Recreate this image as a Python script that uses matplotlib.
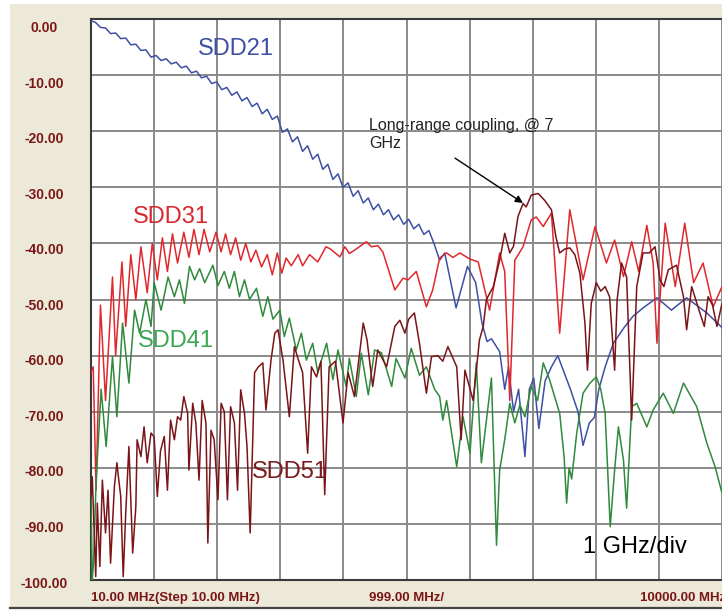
import numpy as np
import matplotlib
matplotlib.use('Agg')
from matplotlib import pyplot as plt
from matplotlib import transforms
from matplotlib.patches import Rectangle
from matplotlib.lines import Line2D

plt.rcParams['font.family'] = ['Liberation Sans', 'DejaVu Sans']

# (frequency MHz, dB)
sdd21 = [(10, -0.3), (80, -0.6), (160, -1.5), (240, -1.6), (320, -2.6), (400, -2.5), (480, -3.5),
         (560, -3.4), (640, -4.6), (720, -4.5), (800, -5.6), (880, -5.5), (960, -6.8), (1040, -6.5),
         (1120, -7.4), (1200, -7.1), (1280, -8.0), (1360, -7.7), (1440, -8.7), (1520, -8.4),
         (1600, -9.6), (1680, -9.3), (1760, -10.5), (1840, -10.2), (1920, -11.5), (2000, -11.2),
         (2080, -12.6), (2160, -12.2), (2240, -13.6), (2320, -13.0), (2400, -14.6), (2480, -14.0),
         (2560, -15.6), (2640, -15.0), (2720, -16.9), (2800, -16.1), (2880, -17.9), (2960, -17.3),
         (3040, -20.2), (3120, -19.6), (3200, -21.9), (3280, -21.0), (3360, -23.6), (3440, -22.6),
         (3520, -25.0), (3600, -24.1), (3680, -26.8), (3760, -25.9), (3840, -28.6), (3920, -27.6),
         (4000, -30.0), (4080, -29.2), (4160, -31.6), (4240, -30.6), (4320, -32.8), (4400, -31.9),
         (4480, -34.0), (4560, -33.0), (4640, -34.9), (4720, -34.0), (4800, -35.8), (4880, -34.9),
         (4960, -36.6), (5040, -35.7), (5120, -37.4), (5200, -36.6), (5280, -38.4), (5360, -37.7),
         (5440, -40.0), (5530, -43.0), (5610, -41.7), (5790, -51.5), (5970, -44.1), (6100, -47.0),
         (6200, -54.2), (6280, -57.5), (6350, -57.0), (6480, -59.3), (6560, -66), (6620, -62),
         (6700, -70), (6780, -66), (6880, -78), (6950, -66), (7020, -64), (7100, -73), (7200, -64.5),
         (7300, -62), (7400, -60), (7500, -63), (7600, -66), (7720, -70), (7800, -76), (7900, -72),
         (7980, -71), (8050, -66), (8150, -62), (8280, -57.8), (8450, -55), (8590, -53), (8750, -51.5),
         (8970, -49.7), (9200, -51.9), (9440, -49.7), (9760, -52.4), (10000, -55)]

sdd31 = [(10, -63), (45, -62), (90, -84), (160, -51), (240, -68), (350, -46), (400, -60), (500, -43.3),
         (560, -54.8), (640, -42), (720, -50), (800, -40.6), (900, -48.8), (980, -40), (1060, -46.5),
         (1140, -39), (1220, -45), (1300, -38.3), (1380, -43.5), (1480, -38), (1560, -42.5),
         (1640, -37.5), (1720, -42), (1800, -37.5), (1890, -41.5), (1990, -38), (2070, -41.5),
         (2140, -38.3), (2220, -42), (2300, -39), (2380, -43), (2460, -40), (2540, -43.3),
         (2620, -41.2), (2710, -44.2), (2800, -42), (2880, -45.6), (2960, -41.7), (3030, -45.3),
         (3100, -42.6), (3180, -44), (3290, -42), (3360, -44), (3470, -42), (3600, -43.3),
         (3730, -40.6), (3800, -41), (3950, -42.4), (4030, -40.6), (4100, -41.8), (4210, -41),
         (4370, -39.7), (4450, -40.6), (4550, -40.4), (4630, -41.5), (4820, -48.3), (4950, -46.2),
         (5030, -46.5), (5160, -45), (5320, -51.3), (5420, -48.3), (5530, -42.6), (5640, -41.7),
         (5740, -42.5), (5850, -41.7), (6010, -42.8), (6140, -43.3), (6320, -51.9), (6480, -41.7),
         (6560, -45), (6640, -68), (6720, -43), (6850, -40.6), (6980, -35.8), (7060, -35.3),
         (7170, -37), (7300, -34.6), (7430, -56), (7590, -34), (7800, -46.5), (7990, -37),
         (8170, -43.5), (8300, -39.4), (8440, -45.9), (8570, -39.7), (8680, -45), (8810, -36.8),
         (8910, -43.5), (8970, -57.8), (9100, -36.4), (9260, -47.7), (9410, -36.4), (9550, -47),
         (9700, -43.5), (9860, -51.3), (10000, -47.7)]

sdd41 = [(10, -85), (30, -100), (50, -97), (90, -82.8), (170, -66), (250, -76.2), (350, -60.2),
         (420, -70.9), (510, -54.2), (610, -64.9), (700, -51.9), (780, -56), (880, -50), (960, -54.8),
         (1010, -47), (1120, -51.9), (1230, -46), (1330, -49.5), (1410, -46.5), (1490, -50.7),
         (1570, -44.1), (1650, -46.5), (1730, -44.5), (1810, -47), (1940, -43.9), (2020, -47.5),
         (2120, -45), (2200, -48), (2280, -45), (2360, -49.5), (2440, -46.5), (2520, -50),
         (2630, -48), (2730, -53), (2810, -49.5), (2890, -53.5), (3000, -51.9), (3070, -56.6),
         (3150, -53.3), (3260, -59), (3340, -56), (3420, -60.8), (3520, -57.8), (3600, -63),
         (3740, -57.8), (3840, -64.3), (3920, -59), (4050, -65.5), (4100, -60.5), (4210, -67.3),
         (4290, -59.6), (4400, -67), (4500, -59), (4610, -59.5), (4770, -65.5), (4840, -60.5),
         (4980, -64), (5080, -58.7), (5210, -63.5), (5320, -62), (5450, -66), (5530, -67.3),
         (5580, -71.5), (5640, -68), (5800, -79.8), (5900, -70.9), (6010, -77.4), (6110, -61.3),
         (6190, -79.1), (6350, -64), (6430, -93.8), (6480, -80.4), (6560, -75), (6640, -68.5),
         (6720, -72), (6800, -68.8), (6880, -70.9), (6980, -65.5), (7080, -68), (7170, -61.3),
         (7270, -64.3), (7430, -70.3), (7500, -78), (7540, -86.3), (7580, -80), (7620, -82),
         (7700, -73.8), (7800, -66.7), (7910, -64.9), (8010, -63.8), (8080, -66), (8150, -70.3),
         (8230, -90.5), (8300, -80.4), (8360, -72.7), (8440, -78.6), (8490, -87.2), (8570, -69.1),
         (8650, -68.5), (8810, -72.7), (8910, -69.7), (9070, -66.7), (9230, -70.3), (9390, -64.9),
         (9600, -69.1), (9760, -75.6), (9890, -79.8), (10000, -84.5)]

sdd51 = [(10, -85.1), (30, -81.6), (85, -99.4), (110, -86.3), (150, -97.6), (190, -82.2), (240, -91.6),
         (280, -84), (320, -97), (380, -83.4), (420, -79.1), (450, -82.2), (480, -85), (520, -99.4),
         (560, -88), (610, -76.2), (670, -95.2), (720, -86.9), (740, -75), (800, -78), (850, -72.7),
         (900, -79.1), (960, -73.8), (1010, -74.5), (1060, -85.1), (1110, -77), (1170, -74.4),
         (1220, -84), (1270, -71.5), (1330, -75), (1380, -70.9), (1430, -71.5), (1480, -67.3),
         (1540, -70.3), (1560, -80.4), (1620, -68.5), (1670, -72), (1720, -82.2), (1770, -68),
         (1830, -72), (1860, -93.4), (1910, -73.3), (1960, -75), (2020, -85.7), (2070, -68.5),
         (2120, -70), (2170, -85.7), (2220, -69.1), (2280, -72), (2330, -84), (2380, -66.1),
         (2440, -70.3), (2480, -76.2), (2530, -91.6), (2600, -63), (2660, -62), (2730, -61.3),
         (2780, -69.7), (2860, -60.8), (2920, -56), (2970, -55.4), (3050, -60.8), (3150, -70.9),
         (3230, -58.4), (3300, -61), (3360, -63), (3440, -77.4), (3500, -62), (3580, -63.8),
         (3650, -61), (3710, -84.8), (3780, -62), (3880, -61), (4000, -72), (4080, -63),
         (4180, -67.3), (4320, -54.2), (4380, -57.2), (4470, -65.5), (4550, -59), (4690, -62),
         (4820, -54.8), (4900, -53.7), (4980, -56), (5040, -53.5), (5130, -52.4), (5210, -57.8),
         (5320, -66.7), (5400, -60.2), (5500, -60), (5580, -61), (5660, -58.4), (5800, -62),
         (5870, -75), (5930, -62.6), (6060, -68), (6160, -57.2), (6220, -54.8), (6270, -50),
         (6380, -47.7), (6480, -43), (6560, -38.2), (6640, -41.7), (6700, -40.5), (6770, -35.2),
         (6850, -32.9), (6900, -33.5), (6980, -31.4), (7090, -31.1), (7190, -32.3), (7300, -34),
         (7370, -38.8), (7430, -41.7), (7510, -41), (7590, -40.8), (7670, -42), (7750, -45.3),
         (7830, -54.2), (7870, -62.6), (7930, -50.7), (8010, -47), (8080, -48.5), (8150, -47.7),
         (8220, -49.5), (8300, -62.6), (8340, -50), (8410, -43.5), (8490, -46), (8570, -71.5),
         (8650, -47.7), (8750, -41.7), (8850, -41.7), (8940, -40.6), (9020, -46.5), (9080, -47.7),
         (9150, -44.7), (9280, -43.9), (9390, -49.5), (9440, -55.4), (9520, -47.7), (9650, -52.4),
         (9720, -54.8), (9780, -49.5), (9850, -51), (9920, -54.8), (10000, -50.7)]

y_ticks = [0, -10, -20, -30, -40, -50, -60, -70, -80, -90, -100]
x_grid = [10, 1009, 2008, 3007, 4006, 5005, 6004, 7003, 8002, 9001, 10000]
x_labels = ['10.00 MHz(Step 10.00 MHz)', '999.00 MHz/', '10000.00 MHz']

label_red = '#7a1616'

fig = plt.figure(figsize=(7.22, 6.10), dpi=100, facecolor='white')
fig.patches.append(Rectangle((10 / 722, 3 / 610), 712 / 722, 603 / 610, transform=fig.transFigure,
                             facecolor='#ece9d8', edgecolor='none', zorder=-10))
fig.lines.append(Line2D([10 / 722, 1], [2 / 610, 2 / 610], transform=fig.transFigure,
                        color='#444444', lw=1.6, zorder=-9))

ax = fig.add_axes([91 / 722, 30 / 610, 631 / 722, 561 / 610])
ax.set_facecolor('white')
ax.set_xlim(10, 10000)
ax.set_ylim(-100, 0)

ax.set_xticks(x_grid)
ax.set_yticks(y_ticks)
ax.set_yticklabels([f'{v:.2f}' for v in y_ticks], fontweight='bold', fontsize=10,
                   color=label_red, ha='center')
ax.tick_params(axis='x', length=0, labelbottom=False)
ax.tick_params(axis='y', length=0, pad=33.8)
for i, lab in enumerate(ax.get_yticklabels()):
    off = transforms.ScaledTranslation(0, -(7.5 - 0.55 * i) / 100, fig.dpi_scale_trans)
    lab.set_transform(lab.get_transform() + off)

ax.grid(True, color='#8a8a8a', lw=1.4)
ax.set_axisbelow(True)
for s in ['top', 'left', 'bottom']:
    ax.spines[s].set_color('#3a3a3a')
    ax.spines[s].set_linewidth(1.5)
ax.spines['right'].set_visible(False)

series = [(sdd21, '#3f4fa3'), (sdd31, '#e0282c'), (sdd41, '#2f8a3c'), (sdd51, '#7a1418')]
for pts, col in series:
    f, db = np.array(pts).T
    ax.plot(f, db, color=col, lw=1.1, zorder=3)

ax.text(1704, -6.4, 'SDD21', color='#3f4fa3', fontsize=17, va='baseline')
ax.text(675, -36.4, 'SDD31', color='#d8282c', fontsize=17, va='baseline')
ax.text(754, -58.5, 'SDD41', color='#3aa853', fontsize=17, va='baseline', zorder=4)
ax.text(2559, -81.8, 'SDD51', color='#7a1a1a', fontsize=17, va='baseline', zorder=4)
ax.text(7799, -95.2, '1 GHz/div', color='black', fontsize=17, va='baseline', zorder=4)

ax.text(4411, -19.8, 'Long-range coupling, @ 7', color='#222222', fontsize=11.5, va='baseline')
ax.text(4411, -23.0, 'GHz', color='#222222', fontsize=11.5, va='baseline')
ax.annotate('', xy=(6849, -32.8), xytext=(5773, -24.8),
            arrowprops=dict(arrowstyle='-|>', color='black', lw=1.0, mutation_scale=11,
                            shrinkA=0, shrinkB=0), zorder=5)

ax.text(0, -0.0374, x_labels[0], transform=ax.transAxes, fontsize=9.5, fontweight='bold',
        color=label_red, va='baseline', ha='left')
ax.text(0.4405, -0.0374, x_labels[1], transform=ax.transAxes, fontsize=9.5, fontweight='bold',
        color=label_red, va='baseline', ha='left')
ax.text(0.8700, -0.0374, x_labels[2], transform=ax.transAxes, fontsize=9.5, fontweight='bold',
        color=label_red, va='baseline', ha='left', clip_on=False)

fig.savefig('out.png', dpi=100, facecolor=fig.get_facecolor())
